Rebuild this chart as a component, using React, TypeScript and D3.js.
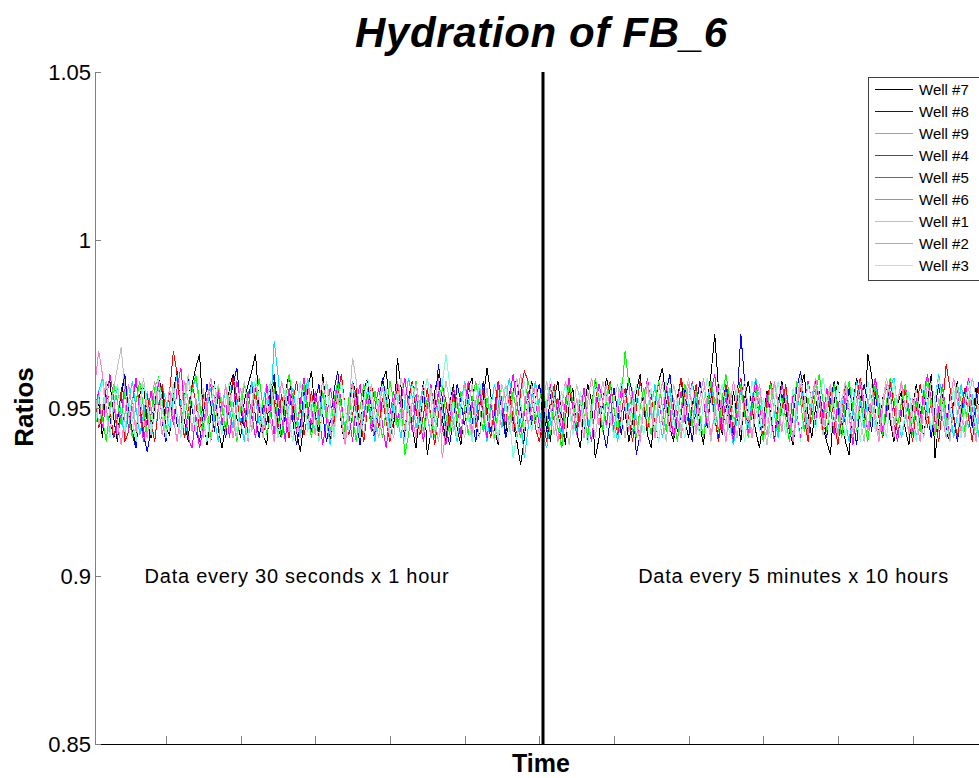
import React from "react";
import * as d3 from "d3";

// ratios are stored x1000 (e.g. 951 -> 0.951), one sample per time index
const well7 = [
  945, 952, 941, 956, 958, 947, 940, 953, 960, 949, 943, 939, 954, 957, 946, 941, 951, 959, 955, 944,
  942, 955, 961, 950, 946, 940, 957, 962, 966, 948, 939, 947, 958, 944, 938, 945, 956, 960, 947, 941,
  952, 957, 961, 966, 950, 942, 939, 953, 958, 944, 941, 955, 960, 951, 943, 937, 946, 956, 961, 948,
  943, 960, 950, 940, 948, 957, 945, 939, 951, 958, 954, 942, 955, 959, 946, 940, 952, 958, 961, 950,
  944, 965, 956, 942, 953, 944, 938, 950, 958, 936, 943, 955, 960, 947, 940, 951, 957, 944, 939, 950,
  956, 959, 946, 941, 953, 962, 954, 944, 939, 952, 942, 955, 946, 940, 933, 941, 953, 958, 947, 943,
  955, 946, 940, 953, 958, 948, 939, 951, 956, 943, 938, 950, 957, 952, 935, 941, 952, 959, 954, 942,
  948, 957, 949, 940, 946, 955, 960, 950, 942, 938, 951, 958, 962, 952, 944, 940, 953, 959, 947, 941,
  951, 957, 945, 939, 952, 960, 972, 956, 942, 951, 944, 955, 948, 940, 953, 958, 950, 943, 938, 947,
  955, 948, 940, 952, 958, 950, 943, 939, 949, 956, 960, 948, 941, 950, 955, 944, 940, 936, 952, 958,
  947, 940, 936, 951, 959, 953, 944, 966, 960, 949, 942, 953, 957, 946, 940, 951, 955, 944, 939, 950,
  957, 949, 941, 952, 960, 935, 946, 954, 943, 940, 951, 958, 948, 941, 953, 945, 956, 947, 942, 951,
];
const well8 = [
  954, 944, 949, 958, 947, 941, 946, 955, 960, 949, 942, 938, 951, 942, 937, 944, 953, 958, 946, 940,
  951, 956, 945, 942, 954, 959, 950, 943, 940, 948, 957, 951, 943, 955, 946, 941, 952, 957, 962, 950,
  944, 953, 958, 947, 941, 951, 945, 955, 960, 950, 942, 948, 956, 946, 939, 945, 955, 949, 943, 952,
  957, 948, 940, 946, 955, 961, 950, 943, 949, 957, 946, 939, 948, 956, 951, 942, 952, 959, 953, 944,
  951, 956, 946, 941, 953, 958, 949, 944, 955, 948, 941, 950, 963, 953, 944, 939, 947, 957, 952, 945,
  954, 947, 940, 951, 958, 950, 943, 948, 957, 949, 941, 946, 955, 959, 950, 942, 952, 945, 953, 957,
  951, 943, 954, 947, 940, 952, 957, 950, 942, 948, 955, 945, 940, 951, 958, 953, 944, 938, 947, 956,
  949, 942, 952, 959, 954, 936, 942, 951, 957, 948, 941, 952, 946, 955, 960, 950, 943, 948, 956, 947,
  940, 950, 958, 952, 944, 954, 947, 941, 950, 957, 948, 942, 952, 972, 958, 945, 951, 956, 946, 940,
  951, 957, 952, 944, 954, 947, 940, 948, 956, 961, 951, 943, 950, 945, 955, 948, 941, 952, 958, 950,
  942, 948, 956, 947, 939, 951, 957, 952, 943, 954, 947, 941, 950, 958, 953, 945, 952, 957, 948, 942,
  952, 945, 955, 948, 941, 950, 957, 950, 943, 954, 947, 940, 948, 956, 952, 944, 953, 959, 950, 943,
];
const well9 = [
  946, 955, 959, 950, 943, 950, 957, 948, 941, 952, 958, 950, 942, 948, 955, 945, 940, 951, 957, 952,
  943, 953, 960, 950, 941, 947, 955, 959, 951, 943, 950, 956, 947, 940, 948, 957, 950, 944, 953, 946,
  940, 950, 958, 953, 945, 952, 957, 948, 970, 960, 947, 941, 951, 956, 948, 942, 952, 959, 950, 942,
  948, 955, 946, 939, 947, 956, 950, 944, 953, 958, 950, 942, 948, 956, 947, 940, 950, 957, 952, 944,
  953, 947, 941, 952, 959, 953, 944, 950, 957, 948, 941, 947, 955, 950, 943, 953, 946, 940, 951, 958,
  952, 943, 948, 956, 947, 940, 950, 957, 952, 944, 953, 959, 950, 941, 947, 935, 944, 953, 958, 950,
  942, 938, 946, 955, 948, 941, 952, 958, 950, 943, 948, 956, 947, 940, 950, 957, 952, 944, 953, 946,
  940, 948, 956, 950, 943, 952, 958, 952, 944, 950, 957, 948, 941, 950, 956, 947, 940, 950, 957, 952,
  944, 953, 947, 941, 952, 958, 950, 943, 948, 955, 946, 939, 947, 956, 950, 944, 953, 959, 952, 944,
  950, 957, 948, 941, 950, 956, 947, 940, 948, 957, 950, 944, 953, 959, 952, 943, 948, 956, 947, 942,
  953, 946, 940, 950, 958, 952, 944, 953, 947, 957, 950, 942, 948, 956, 959, 950, 941, 947, 955, 948,
  941, 950, 957, 948, 943, 953, 960, 952, 944, 950, 941, 948, 957, 950, 944, 954, 947, 940, 952, 958,
];
const well4 = [
  953, 944, 948, 957, 950, 941, 947, 955, 940, 943, 952, 958, 950, 943, 954, 946, 940, 950, 957, 948,
  955, 967, 960, 948, 941, 950, 957, 952, 943, 954, 947, 940, 948, 956, 950, 943, 952, 959, 953, 945,
  950, 942, 948, 956, 947, 941, 950, 958, 952, 944, 954, 947, 941, 952, 958, 950, 942, 948, 955, 947,
  941, 950, 957, 952, 945, 954, 960, 950, 942, 948, 956, 947, 940, 950, 957, 952, 944, 953, 946, 940,
  948, 957, 950, 944, 952, 958, 950, 942, 948, 956, 947, 939, 948, 957, 952, 944, 954, 947, 941, 950,
  957, 952, 944, 950, 956, 948, 941, 950, 958, 952, 945, 954, 947, 942, 955, 961, 958, 953, 944, 940,
  946, 940, 950, 957, 948, 938, 947, 956, 950, 942, 952, 946, 939, 948, 957, 950, 943, 953, 958, 950,
  942, 948, 956, 947, 940, 950, 958, 952, 943, 954, 946, 940, 950, 957, 948, 941, 952, 959, 953, 945,
  950, 957, 948, 941, 950, 956, 947, 940, 948, 957, 952, 943, 953, 959, 950, 942, 948, 956, 947, 941,
  952, 958, 952, 944, 950, 957, 948, 941, 950, 956, 947, 940, 950, 958, 952, 942, 948, 955, 946, 939,
  948, 957, 950, 943, 953, 959, 952, 943, 950, 956, 947, 941, 952, 958, 950, 942, 948, 956, 947, 940,
  950, 957, 952, 944, 953, 946, 940, 950, 963, 956, 948, 941, 950, 956, 947, 940, 950, 958, 952, 944,
];
const well5 = [
  950, 955, 944, 952, 960, 953, 941, 948, 957, 943, 952, 959, 948, 940, 947, 955, 950, 958, 946, 942,
  952, 945, 956, 962, 950, 941, 938, 948, 938, 944, 953, 957, 948, 955, 945, 952, 941, 950, 958, 952,
  945, 955, 948, 941, 952, 944, 957, 950, 942, 954, 947, 940, 956, 948, 943, 952, 959, 950, 945, 955,
  948, 939, 946, 956, 950, 958, 952, 942, 948, 940, 952, 957, 947, 954, 943, 950, 956, 945, 938, 948,
  955, 946, 952, 959, 950, 943, 954, 946, 940, 950, 957, 948, 955, 944, 939, 947, 956, 952, 942, 950,
  958, 952, 945, 955, 948, 941, 952, 944, 957, 950, 945, 953, 960, 952, 943, 948, 955, 946, 952, 945,
  941, 950, 957, 946, 953, 943, 952, 959, 950, 942, 948, 956, 945, 940, 950, 957, 952, 945, 954, 942,
  948, 956, 950, 943, 955, 947, 940, 952, 959, 950, 943, 953, 945, 957, 950, 941, 948, 955, 946, 952,
  958, 950, 942, 952, 945, 955, 960, 950, 943, 953, 947, 940, 950, 956, 948, 942, 952, 958, 950, 945,
  954, 947, 940, 950, 957, 952, 943, 955, 948, 941, 950, 958, 952, 945, 954, 947, 956, 950, 942, 952,
  945, 955, 948, 939, 950, 957, 950, 943, 953, 959, 952, 943, 948, 955, 945, 940, 952, 957, 950, 943,
  953, 946, 955, 960, 952, 943, 950, 957, 948, 941, 950, 956, 947, 953, 959, 950, 943, 952, 962, 954,
];
const well6 = [
  943, 953, 947, 940, 950, 957, 952, 945, 955, 948, 941, 952, 958, 950, 942, 948, 956, 959, 952, 943,
  950, 957, 948, 942, 954, 947, 955, 960, 952, 943, 950, 941, 948, 957, 950, 943, 953, 947, 940, 950,
  957, 952, 943, 953, 959, 950, 942, 948, 956, 947, 941, 952, 960, 953, 945, 950, 957, 948, 941, 952,
  945, 955, 948, 942, 952, 958, 950, 943, 953, 947, 940, 950, 957, 952, 945, 955, 948, 941, 950, 958,
  952, 944, 950, 936, 942, 952, 958, 950, 943, 953, 947, 941, 952, 957, 948, 942, 953, 946, 955, 950,
  942, 952, 958, 950, 943, 953, 947, 941, 950, 957, 952, 945, 955, 948, 941, 950, 958, 953, 945, 952,
  957, 948, 942, 952, 944, 938, 950, 957, 952, 945, 955, 948, 941, 950, 959, 953, 943, 952, 957, 950,
  943, 953, 967, 957, 947, 941, 950, 956, 948, 942, 952, 958, 950, 943, 953, 947, 940, 950, 957, 952,
  945, 955, 948, 941, 950, 958, 952, 943, 953, 960, 953, 945, 950, 957, 948, 941, 950, 956, 947, 940,
  950, 957, 952, 943, 953, 947, 940, 950, 958, 952, 943, 953, 946, 955, 960, 952, 943, 950, 957, 948,
  941, 952, 958, 950, 943, 953, 947, 940, 950, 957, 948, 942, 952, 959, 953, 945, 952, 957, 948, 942,
  952, 943, 953, 959, 950, 942, 948, 956, 947, 940, 950, 957, 952, 943, 953, 947, 941, 952, 958, 950,
];
const well1 = [
  955, 945, 950, 958, 948, 956, 962, 968, 956, 947, 953, 944, 951, 959, 950, 942, 948, 956, 947, 941,
  950, 957, 948, 942, 953, 960, 952, 943, 950, 956, 947, 940, 950, 957, 952, 945, 955, 948, 941, 952,
  958, 950, 943, 953, 947, 941, 952, 958, 950, 942, 948, 955, 946, 940, 950, 957, 952, 944, 953, 946,
  940, 950, 958, 952, 943, 953, 947, 941, 950, 965, 958, 948, 942, 952, 957, 948, 941, 950, 956, 947,
  941, 952, 959, 953, 945, 952, 957, 950, 942, 948, 956, 947, 940, 950, 958, 952, 943, 953, 947, 941,
  950, 957, 948, 941, 950, 956, 947, 940, 948, 957, 952, 943, 953, 959, 952, 943, 950, 957, 948, 942,
  952, 958, 950, 942, 948, 955, 946, 939, 948, 957, 952, 945, 955, 948, 941, 950, 958, 953, 945, 952,
  957, 948, 941, 950, 956, 947, 942, 952, 958, 950, 943, 953, 947, 940, 950, 957, 952, 943, 953, 959,
  950, 942, 948, 956, 947, 940, 950, 958, 952, 945, 955, 948, 941, 952, 958, 950, 942, 948, 955, 946,
  939, 948, 957, 952, 943, 953, 947, 941, 952, 959, 953, 945, 952, 957, 948, 942, 950, 956, 947, 941,
  952, 958, 950, 943, 953, 947, 940, 950, 957, 948, 942, 952, 959, 953, 945, 952, 957, 950, 942, 948,
  956, 947, 941, 950, 958, 952, 943, 953, 946, 940, 950, 957, 948, 941, 952, 959, 953, 945, 952, 957,
];
const well2 = [
  957, 967, 960, 950, 942, 952, 946, 939, 948, 957, 950, 943, 953, 947, 941, 952, 958, 950, 942, 948,
  956, 947, 940, 950, 958, 952, 943, 953, 947, 941, 952, 959, 953, 945, 950, 957, 948, 941, 950, 956,
  947, 940, 950, 957, 952, 943, 953, 946, 940, 950, 958, 952, 943, 953, 947, 941, 950, 957, 948, 942,
  952, 958, 950, 942, 948, 955, 946, 939, 948, 957, 950, 943, 953, 959, 952, 943, 950, 956, 947, 941,
  950, 958, 952, 943, 953, 947, 941, 952, 957, 948, 942, 952, 959, 935, 943, 953, 947, 941, 950, 957,
  948, 942, 952, 958, 950, 943, 953, 947, 940, 950, 957, 952, 943, 953, 960, 953, 945, 950, 957, 948,
  941, 950, 956, 947, 940, 950, 958, 952, 943, 953, 947, 941, 952, 959, 953, 945, 952, 957, 948, 942,
  952, 958, 950, 943, 953, 946, 940, 950, 957, 948, 941, 952, 958, 950, 943, 953, 947, 941, 950, 957,
  950, 943, 953, 959, 950, 942, 948, 956, 947, 940, 950, 958, 952, 943, 953, 947, 941, 952, 957, 948,
  942, 952, 958, 950, 943, 953, 947, 940, 950, 957, 948, 942, 952, 959, 953, 945, 952, 957, 950, 942,
  948, 956, 947, 941, 950, 958, 952, 943, 953, 946, 940, 950, 957, 948, 941, 952, 958, 950, 943, 953,
  947, 940, 950, 957, 952, 943, 953, 947, 941, 952, 959, 952, 943, 950, 956, 947, 940, 950, 958, 952,
];
const well3 = [
  944, 953, 958, 948, 941, 952, 957, 950, 943, 953, 947, 940, 950, 957, 952, 943, 953, 959, 950, 942,
  948, 956, 947, 941, 950, 958, 952, 943, 953, 947, 940, 950, 957, 948, 942, 952, 958, 950, 943, 953,
  947, 941, 952, 959, 953, 945, 952, 957, 948, 941, 950, 956, 947, 940, 950, 958, 952, 943, 953, 946,
  940, 950, 957, 948, 941, 952, 958, 950, 943, 953, 947, 941, 952, 959, 953, 945, 952, 957, 950, 942,
  948, 955, 946, 940, 950, 957, 952, 943, 953, 959, 952, 943, 950, 957, 966, 957, 948, 941, 950, 956,
  947, 940, 950, 958, 952, 943, 953, 947, 941, 952, 957, 948, 935, 942, 952, 958, 950, 943, 953, 947,
  941, 952, 959, 953, 945, 952, 957, 950, 942, 948, 955, 946, 939, 948, 957, 952, 945, 955, 948, 941,
  950, 958, 953, 945, 952, 957, 948, 942, 950, 956, 947, 940, 950, 958, 952, 943, 953, 947, 941, 952,
  957, 948, 942, 952, 959, 953, 945, 952, 957, 950, 942, 948, 956, 947, 940, 950, 958, 952, 943, 953,
  947, 941, 952, 958, 950, 942, 948, 956, 947, 940, 950, 957, 952, 943, 953, 959, 952, 943, 950, 957,
  948, 941, 950, 956, 947, 940, 950, 958, 952, 943, 953, 947, 941, 952, 958, 950, 942, 948, 955, 946,
  940, 950, 957, 952, 943, 953, 959, 950, 942, 948, 956, 947, 941, 950, 958, 952, 943, 953, 947, 941,
];

// plotting / legend order
const wellNames = ["Well #7", "Well #8", "Well #9", "Well #4", "Well #5", "Well #6", "Well #1", "Well #2", "Well #3"];
const wellColors = ["#000000", "#0000ff", "#00e5ff", "#ff0000", "#ff00ff", "#00ff00", "#c0c0c0", "#ff80c8", "#80ffd0"];
const wellData = [well7, well8, well9, well4, well5, well6, well1, well2, well3];

const yTicks = [0.85, 0.9, 0.95, 1, 1.05];
const yTickLabels = ["0.85", "0.9", "0.95", "1", "1.05"];
const xTicks = [20, 40, 60, 80, 100, 120, 140, 160, 180, 200, 220, 240];
const splitAt = 121; // end of the 30 s block
const notes = ["Data every 30 seconds x 1 hour", "Data every 5 minutes x 10 hours"];
const noteAt = [55, 188];

const W = 979;
const H = 778;

export default function App() {
  const x = d3.scaleLinear().domain([1, 241]).range([95, 991]);
  const y = d3.scaleLinear().domain([0.85, 1.05]).range([744, 72]);

  const line = d3
    .line<number>()
    .x((_, i) => x(i + 1))
    .y((d) => y(d / 1000));

  const font = "'Liberation Sans', Arial, sans-serif";
  const x0 = x(1);
  const yBottom = y(0.85);

  return (
    <div style={{ position: "absolute", left: 0, top: 0 }}>
      <svg width={W} height={H} style={{ display: "block", background: "#fff" }} fontFamily={font}>
        <rect x={0} y={0} width={W} height={H} fill="#fff" />

        {/* series */}
        <g shapeRendering="crispEdges">
          {wellData.map((d, i) => (
            <path key={wellNames[i]} d={line(d) || ""} fill="none" stroke={wellColors[i]} strokeWidth={1} />
          ))}
        </g>

        {/* split marker */}
        <line x1={x(splitAt)} x2={x(splitAt)} y1={y(1.05)} y2={yBottom} stroke="#000" strokeWidth={3} />

        {/* axes */}
        <line x1={x0} x2={W} y1={yBottom + 0.5} y2={yBottom + 0.5} stroke="#000" strokeWidth={1} />
        <line x1={x0 + 0.5} x2={x0 + 0.5} y1={y(1.05)} y2={yBottom} stroke="#808080" strokeWidth={1} />
        {xTicks.map((t) => (
          <line key={t} x1={Math.round(x(t)) + 0.5} x2={Math.round(x(t)) + 0.5} y1={yBottom} y2={yBottom - 8} stroke="#808080" />
        ))}
        {yTicks.map((t, i) => (
          <g key={t}>
            <line x1={x0} x2={x0 + 6} y1={Math.round(y(t)) + 0.5} y2={Math.round(y(t)) + 0.5} stroke="#808080" />
            <text x={x0 - 4} y={y(t)} textAnchor="end" dominantBaseline="central" fontSize={22} fill="#000">
              {yTickLabels[i]}
            </text>
          </g>
        ))}

        {/* annotations */}
        {notes.map((n, i) => (
          <text key={n} x={x(noteAt[i])} y={583} textAnchor="middle" fontSize={20} textLength={i === 0 ? 304 : 310} fill="#000">
            {n}
          </text>
        ))}

        {/* titles */}
        <text x={541} y={47} textAnchor="middle" fontSize={42} fontWeight="bold" fontStyle="italic" textLength={372} fill="#000">
          Hydration of FB_6
        </text>
        <text x={541} y={772} textAnchor="middle" fontSize={25} fontWeight="bold" fill="#000">
          Time
        </text>
        <text transform="translate(33,407) rotate(-90)" textAnchor="middle" fontSize={26} fontWeight="bold" fill="#000">
          Ratios
        </text>

        {/* legend */}
        <g>
          <rect x={868.5} y={77.5} width={150} height={203} fill="#fff" stroke="#404040" strokeWidth={1} />
          {wellNames.map((n, i) => (
            <g key={n}>
              <line x1={875} x2={913} y1={89.5 + i * 22} y2={89.5 + i * 22} style={{ stroke: wellColors[i] }} strokeWidth={1} />
              <text x={919} y={89 + i * 22} dominantBaseline="central" fontSize={15} fill="#000">
                {n}
              </text>
            </g>
          ))}
        </g>
      </svg>
    </div>
  );
}
